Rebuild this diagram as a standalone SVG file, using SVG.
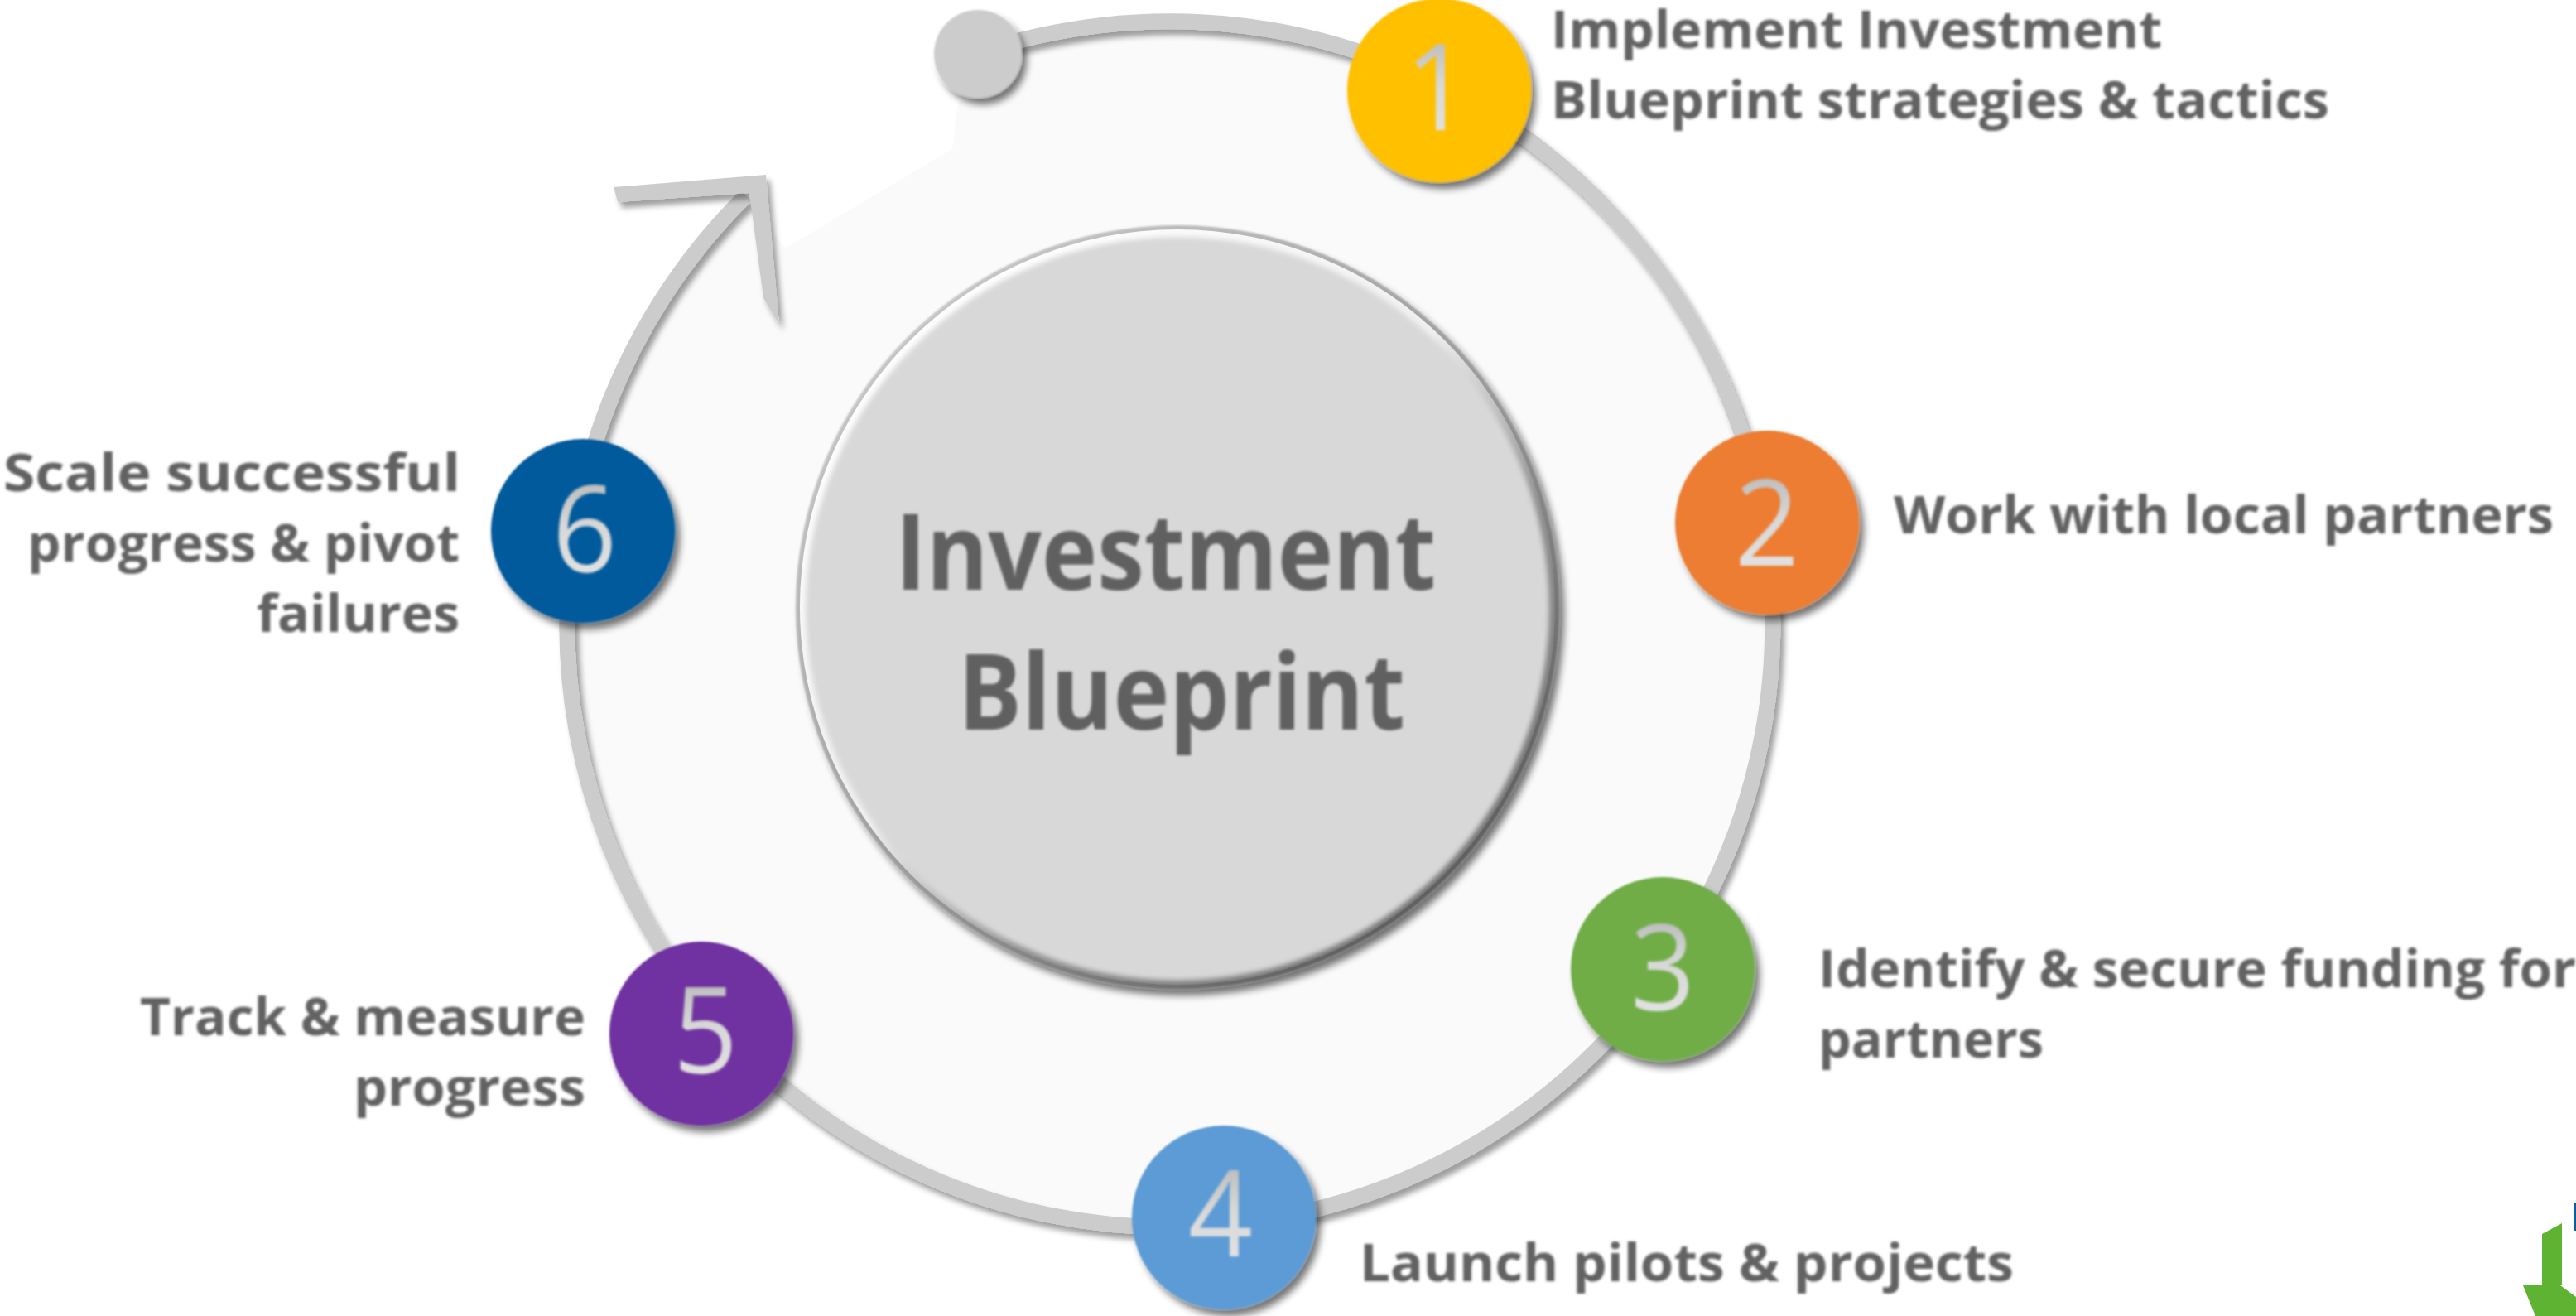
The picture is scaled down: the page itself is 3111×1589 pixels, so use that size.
<svg xmlns="http://www.w3.org/2000/svg" width="3111" height="1589" viewBox="0 0 3111 1589">
<style>
.lb{font-family:"Open Sans","Liberation Sans",sans-serif;font-weight:700;font-size:62px;fill:#626262;filter:url(#soft)}
.ce{font-family:"Open Sans","Liberation Sans",sans-serif;font-weight:700;font-size:128px;fill:#606060;filter:url(#soft)}
.nu{font-family:"Open Sans","Liberation Sans",sans-serif;font-weight:400;font-size:144px;text-anchor:middle;fill:url(#dg);filter:url(#soft)}
.en{text-anchor:end}
.ring{fill:none;stroke:#cdcccd;stroke-width:19;filter:url(#sh)}
</style>
<defs>
<filter id="soft" x="-10%" y="-10%" width="120%" height="120%"><feGaussianBlur stdDeviation="1.4"/></filter>
<filter id="sh" x="-15%" y="-15%" width="130%" height="130%"><feDropShadow dx="5" dy="7" stdDeviation="3.5" flood-color="#000" flood-opacity=".38"/></filter>
<filter id="shc" x="-15%" y="-15%" width="130%" height="130%"><feGaussianBlur in="SourceAlpha" stdDeviation="5" result="b"/><feOffset in="b" dx="6" dy="8"/><feComponentTransfer result="o"><feFuncA type="linear" slope=".55"/></feComponentTransfer><feGaussianBlur in="SourceGraphic" stdDeviation="1" result="s"/><feMerge><feMergeNode in="o"/><feMergeNode in="s"/></feMerge></filter>
<filter id="blur3"><feGaussianBlur stdDeviation="3"/></filter>
<linearGradient id="dg" x1="0" y1="0" x2="0" y2="1"><stop offset="0" stop-color="#a6a6a6"/><stop offset=".5" stop-color="#d8d8d8"/><stop offset="1" stop-color="#e8e8e8"/></linearGradient>
<linearGradient id="rim" x1="0.15" y1="0.1" x2="0.85" y2="0.9"><stop offset="0" stop-color="#c8c8c8"/><stop offset=".55" stop-color="#9a9a9a"/><stop offset="1" stop-color="#5a5a5a"/></linearGradient>
<linearGradient id="hi" x1="0.15" y1="0.1" x2="0.85" y2="0.9"><stop offset="0" stop-color="#ffffff"/><stop offset=".45" stop-color="#f0f0f0"/><stop offset=".7" stop-color="#8f8f8f"/><stop offset="1" stop-color="#707070"/></linearGradient>
</defs>
<rect width="3111" height="1589" fill="#fff"/>
<g id="connectors">
<path d="M1177 65 A728 728 0 1 1 901 236 L948 300 L1150 180 L1156 130Z" fill="#fafafa"/>
<path class="ring" d="M1177 65 A728 728 0 1 1 901 236"/>
<path d="M741 226 L925 211 L941 392 L922 360 L905 233 L746 244Z" fill="#cdcccd" filter="url(#sh)"/>
</g>
<g id="start"><circle cx="1181" cy="65" r="53" fill="#cdcccd" filter="url(#shc)"/></g>
<g id="hub">
<circle cx="1422" cy="733" r="461" fill="url(#rim)" filter="url(#shc)"/>
<circle cx="1422" cy="733" r="456" fill="url(#hi)"/>
<circle cx="1422" cy="735" r="449" fill="#d9d8d9" filter="url(#blur3)"/>
<text class="ce" x="1081" y="712" textLength="653" lengthAdjust="spacingAndGlyphs">Investment</text>
<text class="ce" x="1157" y="881" textLength="540" lengthAdjust="spacingAndGlyphs">Blueprint</text>
</g>
<g id="node-1"><circle cx="1738" cy="109" r="111" fill="#ffc000" filter="url(#shc)"/><text class="nu" x="1736" y="157" textLength="78" lengthAdjust="spacingAndGlyphs">1</text><text class="lb" x="1873" y="58" textLength="738" lengthAdjust="spacingAndGlyphs">Implement Investment</text><text class="lb" x="1873" y="143" textLength="940" lengthAdjust="spacingAndGlyphs">Blueprint strategies &amp; tactics</text></g>
<g id="node-2"><circle cx="2134" cy="631" r="111" fill="#ed7d31" filter="url(#shc)"/><text class="nu" x="2134" y="683" textLength="78" lengthAdjust="spacingAndGlyphs">2</text><text class="lb" x="2287" y="644" textLength="797" lengthAdjust="spacingAndGlyphs">Work with local partners</text></g>
<g id="node-3"><circle cx="2008" cy="1170" r="111" fill="#70ad47" filter="url(#shc)"/><text class="nu" x="2008" y="1220" textLength="78" lengthAdjust="spacingAndGlyphs">3</text><text class="lb" x="2196" y="1192" textLength="915" lengthAdjust="spacingAndGlyphs">Identify &amp; secure funding for</text><text class="lb" x="2196" y="1277" textLength="272" lengthAdjust="spacingAndGlyphs">partners</text></g>
<g id="node-4"><circle cx="1478" cy="1470" r="111" fill="#5b9bd5" filter="url(#shc)"/><text class="nu" x="1474" y="1517" textLength="78" lengthAdjust="spacingAndGlyphs">4</text><text class="lb" x="1642" y="1547" textLength="790" lengthAdjust="spacingAndGlyphs">Launch pilots &amp; projects</text></g>
<g id="node-5"><circle cx="847" cy="1248" r="111" fill="#7030a0" filter="url(#shc)"/><text class="nu" x="852" y="1296" textLength="78" lengthAdjust="spacingAndGlyphs">5</text><text class="lb en" x="707" y="1250" textLength="538" lengthAdjust="spacingAndGlyphs">Track &amp; measure</text><text class="lb en" x="707" y="1335" textLength="280" lengthAdjust="spacingAndGlyphs">progress</text></g>
<g id="node-6"><circle cx="704" cy="641" r="111" fill="#005a9c" filter="url(#shc)"/><text class="nu" x="706" y="691" textLength="78" lengthAdjust="spacingAndGlyphs">6</text><text class="lb en" x="556" y="593" textLength="552" lengthAdjust="spacingAndGlyphs">Scale successful</text><text class="lb en" x="555" y="678" textLength="522" lengthAdjust="spacingAndGlyphs">progress &amp; pivot</text><text class="lb en" x="555" y="763" textLength="245" lengthAdjust="spacingAndGlyphs">failures</text></g>
<g id="logo">
<rect x="3108" y="1453" width="3" height="33" fill="#0a5ca3"/>
<path d="M3070 1490 L3094 1477 V1551 H3070Z" fill="#5fb332"/>
<path d="M3047 1552 H3092 L3111 1566 V1589 H3062Z" fill="#5fb332"/>
</g>
</svg>
